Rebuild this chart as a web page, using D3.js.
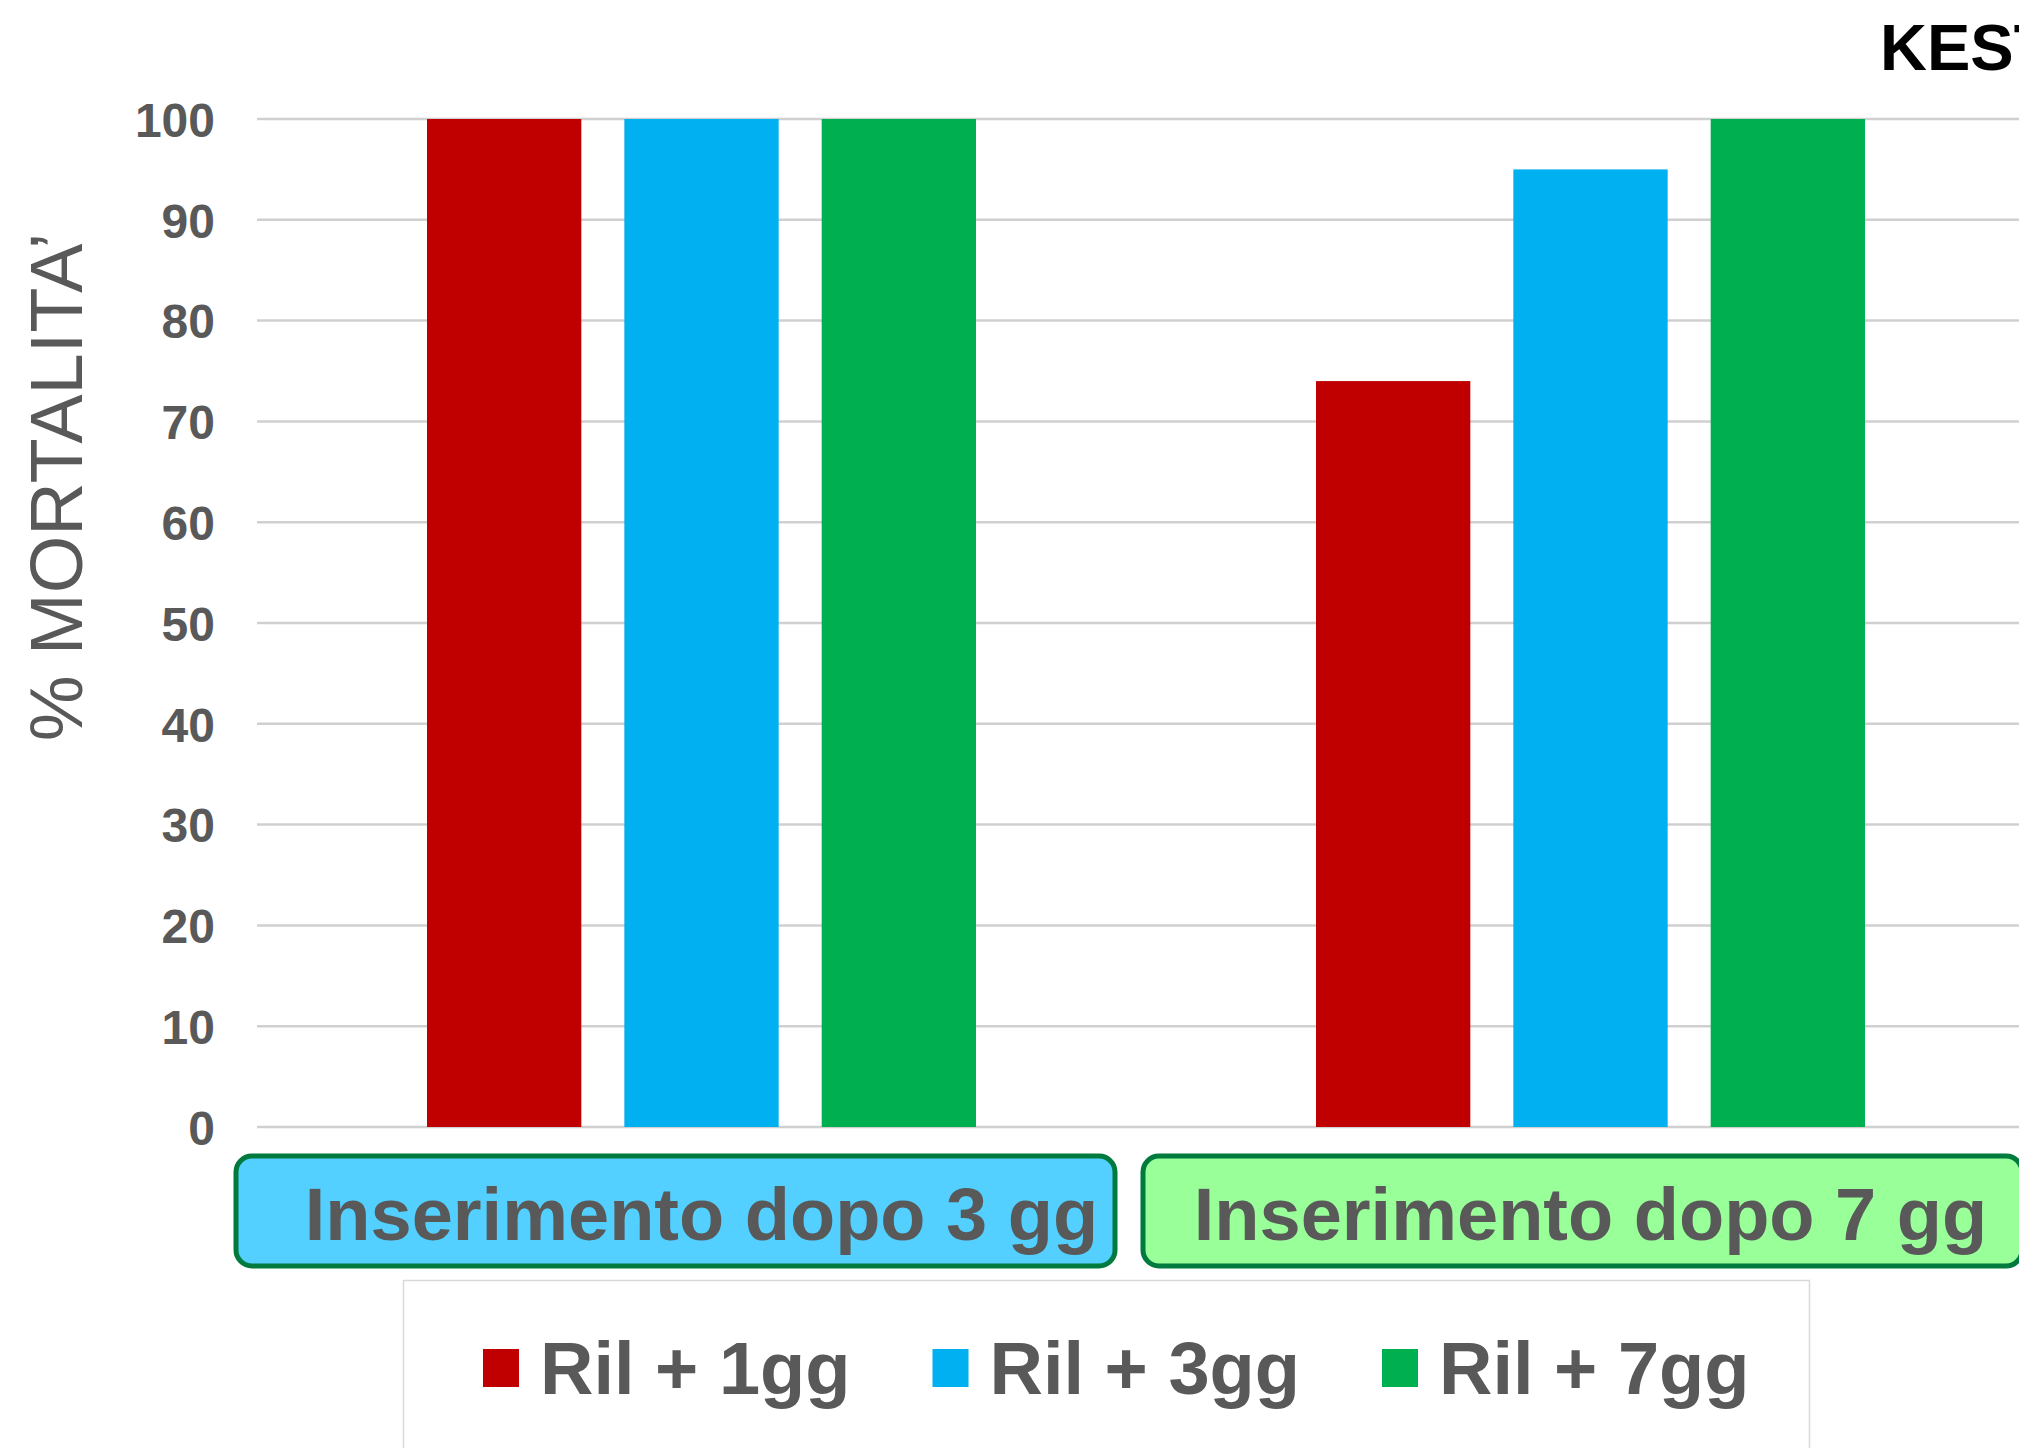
<!DOCTYPE html>
<html>
<head>
<meta charset="utf-8">
<script src="https://cdn.jsdelivr.net/npm/d3@7"></script>
<style>
  body { margin: 0; background: #fff; }
  svg { display: block; font-family: "Liberation Sans", Arial, sans-serif; }
</style>
</head>
<body>
<div id="chart"></div>
<script>
var categories = ["Inserimento dopo 3 gg", "Inserimento dopo 7 gg"];
var seriesNames = ["Ril + 1gg", "Ril + 3gg", "Ril + 7gg"];
var seriesColors = ["#c00000", "#00b0f0", "#00b050"];
var ril1gg = [100, 74];
var ril3gg = [100, 95];
var ril7gg = [100, 100];
var yTicks = [0, 10, 20, 30, 40, 50, 60, 70, 80, 90, 100];
var boxFills = ["#53d0ff", "#99ff99"];

var seriesValues = [ril1gg, ril3gg, ril7gg];

var width = 2019, height = 1448;
var margin = {top: 119, left: 257, bottom: 321};

var svg = d3.select("#chart").append("svg")
    .attr("width", width)
    .attr("height", height);

var x0 = d3.scaleBand().domain(categories).range([margin.left, 2035]).paddingInner(0).paddingOuter(0);
var x1 = d3.scaleBand().domain(seriesNames).range([170, x0.bandwidth() - 170]).paddingInner(0.218).paddingOuter(0);
var y = d3.scaleLinear().domain([0, 100]).range([height - margin.bottom, margin.top]);

// gridlines
svg.append("g")
    .selectAll("line")
    .data(yTicks)
    .join("line")
    .attr("x1", margin.left)
    .attr("x2", width)
    .attr("y1", function(d) { return y(d); })
    .attr("y2", function(d) { return y(d); })
    .attr("stroke", "#d0d0d0")
    .attr("stroke-width", 2.5);

// y axis labels
var yAxis = d3.axisLeft(y).tickValues(yTicks).tickSize(0).tickPadding(0);
var gY = svg.append("g")
    .attr("transform", "translate(215,0)")
    .call(yAxis);
gY.select(".domain").remove();
gY.selectAll("text")
    .attr("fill", "#595959")
    .attr("font-size", 48)
    .attr("font-weight", "bold")
    .attr("font-family", "'Liberation Sans', Arial, sans-serif")
    .attr("dy", "0.36em");

// y title
svg.append("text")
    .attr("transform", "translate(82," + ((y(0) + y(100)) / 2 - 136) + ") rotate(-90)")
    .attr("text-anchor", "middle")
    .attr("fill", "#595959")
    .attr("font-size", 74)
    .text("% MORTALITA\u2019");

// bars
var groups = svg.append("g")
    .selectAll("g")
    .data(categories)
    .join("g")
    .attr("transform", function(d) { return "translate(" + x0(d) + ",0)"; });

groups.selectAll("rect")
    .data(function(d, ci) {
        return seriesNames.map(function(s, si) { return {s: s, v: seriesValues[si][ci], c: seriesColors[si]}; });
    })
    .join("rect")
    .attr("x", function(d) { return x1(d.s); })
    .attr("width", x1.bandwidth())
    .attr("y", function(d) { return y(d.v); })
    .attr("height", function(d) { return y(0) - y(d.v); })
    .attr("fill", function(d) { return d.c; });

// category boxes
var boxW = 879;
var cats = svg.append("g")
    .selectAll("g")
    .data(categories)
    .join("g");

cats.append("rect")
    .attr("x", function(d, i) { return x0(d) - 21 + i * 18; })
    .attr("y", 1156)
    .attr("width", boxW)
    .attr("height", 110)
    .attr("rx", 16)
    .attr("fill", function(d, i) { return boxFills[i]; })
    .attr("stroke", "#007a3d")
    .attr("stroke-width", 5);

cats.append("text")
    .attr("x", function(d) { return x0(d) + x0.bandwidth() / 2; })
    .attr("y", 1240)
    .attr("text-anchor", "middle")
    .attr("fill", "#595959")
    .attr("font-size", 74)
    .attr("font-weight", "bold")
    .text(function(d) { return d; });

// legend
svg.append("rect")
    .attr("x", 403.5)
    .attr("y", 1280.5)
    .attr("width", 1406)
    .attr("height", 200)
    .attr("fill", "#fff")
    .attr("stroke", "#d9d9d9")
    .attr("stroke-width", 1.5);

var legend = svg.append("g")
    .selectAll("g")
    .data(seriesNames)
    .join("g")
    .attr("transform", function(d, i) { return "translate(" + (483 + i * 449.5) + ",0)"; });

legend.append("rect")
    .attr("x", 0)
    .attr("y", 1349)
    .attr("width", 36)
    .attr("height", 38)
    .attr("fill", function(d, i) { return seriesColors[i]; });

legend.append("text")
    .attr("x", 57)
    .attr("y", 1394)
    .attr("fill", "#595959")
    .attr("font-size", 74)
    .attr("font-weight", "bold")
    .text(function(d) { return d; });

// title, cut off at the right edge as in the reference
svg.append("text")
    .attr("x", 1880)
    .attr("y", 70)
    .attr("fill", "#000")
    .attr("font-size", 65)
    .attr("font-weight", "bold")
    .text("KEST");
</script>
</body>
</html>
